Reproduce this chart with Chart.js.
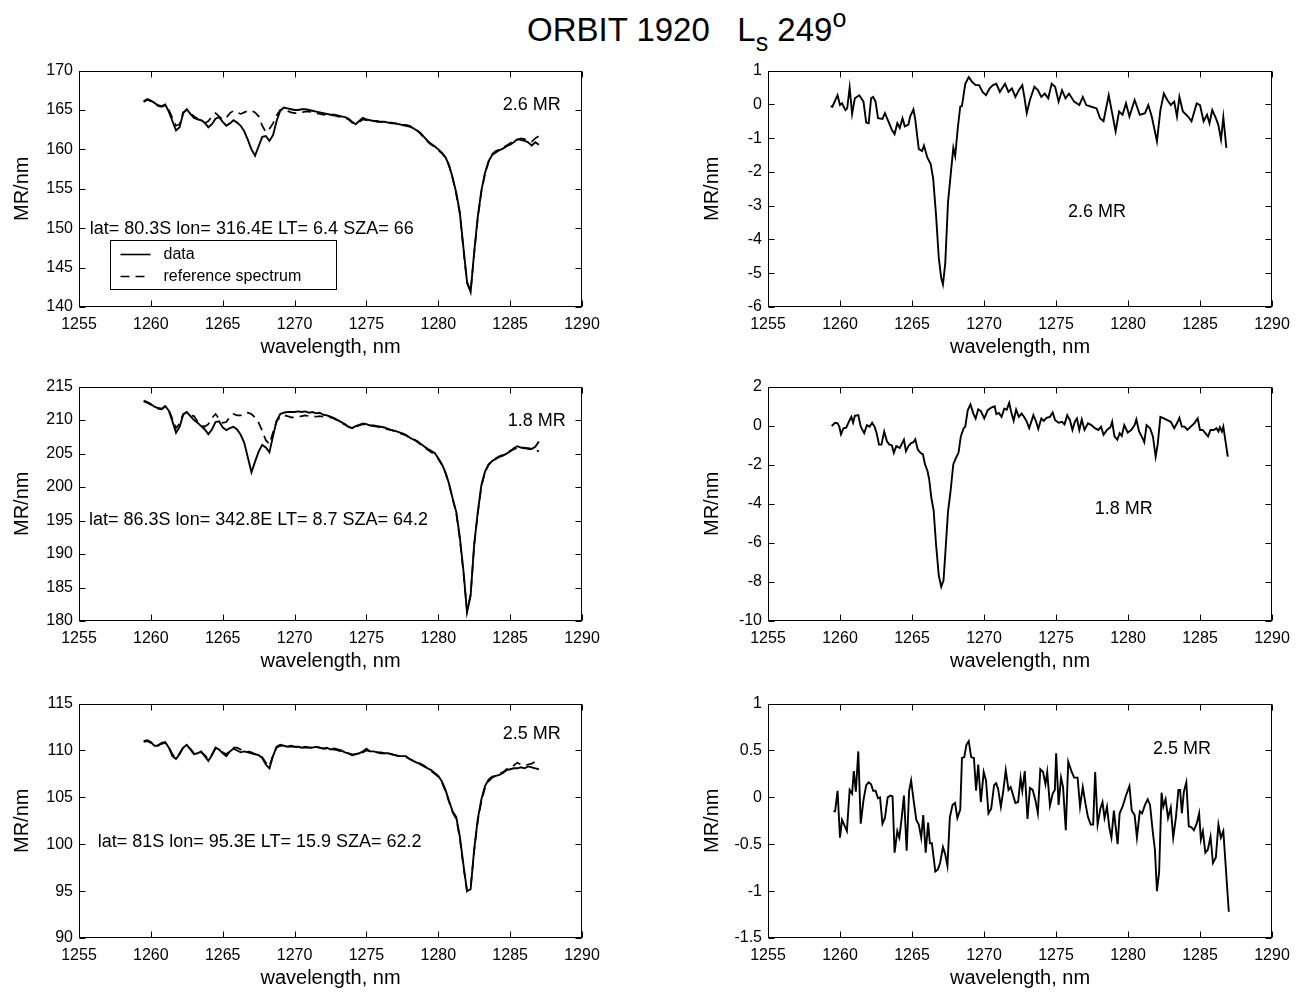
<!DOCTYPE html>
<html>
<head>
<meta charset="utf-8">
<script src="https://cdn.jsdelivr.net/npm/chart.js@4.4.1/dist/chart.umd.min.js"></script>
<style>
  body { margin: 0; background: #fff; width: 1304px; height: 992px; position: relative; overflow: hidden; }
  #title { position: absolute; left: 527px; top: 10px; font: 33px "Liberation Sans", Arial, sans-serif; white-space: nowrap; color: #000; line-height: 40px; }
  #title sub { font-size: 25px; vertical-align: -10px; line-height: 0; }
  #title sup { font-size: 25px; vertical-align: 14px; line-height: 0; }
</style>
</head>
<body>
<div id="title">ORBIT 1920&nbsp;&nbsp;&nbsp;L<sub>s</sub> 249<sup>o</sup></div>
<script>
// wavelength grid for the left (spectrum) panels, nm
const wlGrid = [
  1259.5, 1259.75, 1260, 1260.25, 1260.5, 1260.75, 1261, 1261.25, 1261.5, 1261.75,
  1262, 1262.25, 1262.5, 1262.75, 1263, 1263.25, 1263.5, 1263.75, 1264, 1264.25,
  1264.5, 1264.75, 1265, 1265.25, 1265.5, 1265.75, 1266, 1266.25, 1266.5, 1266.75,
  1267, 1267.25, 1267.5, 1267.75, 1268, 1268.25, 1268.5, 1268.75, 1269, 1269.25,
  1269.5, 1269.75, 1270, 1270.25, 1270.5, 1270.75, 1271, 1271.25, 1271.5, 1271.75,
  1272, 1272.25, 1272.5, 1272.75, 1273, 1273.25, 1273.5, 1273.75, 1274, 1274.25,
  1274.5, 1274.75, 1275, 1275.25, 1275.5, 1275.75, 1276, 1276.25, 1276.5, 1276.75,
  1277, 1277.25, 1277.5, 1277.75, 1278, 1278.25, 1278.5, 1278.75, 1279, 1279.25,
  1279.5, 1279.75, 1280, 1280.25, 1280.5, 1280.75, 1281, 1281.25, 1281.5, 1281.75,
  1282, 1282.25, 1282.5, 1282.75, 1283, 1283.25, 1283.5, 1283.75, 1284, 1284.25,
  1284.5, 1284.75, 1285, 1285.25, 1285.5, 1285.75, 1286, 1286.25, 1286.5, 1286.75,
  1287
];

// panel 1 (lat 80.3S): data and reference spectrum, MR/nm
const data1 = [
  166.1,166.4,166.2,165.9,165.6,165.5,165.7,164.8,163.6,162.4,
  162.8,164.6,165.1,164.5,164.0,163.8,163.7,163.4,162.8,163.2,
  163.9,164.1,163.5,163.0,163.3,163.7,163.4,163.0,162.3,161.2,
  160.0,159.2,160.4,161.6,161.7,161.1,161.8,163.6,164.9,165.3,
  165.2,165.1,165.0,165.0,165.1,165.1,165.0,164.9,164.8,164.7,
  164.6,164.5,164.4,164.4,164.3,164.2,164.1,163.9,163.5,163.2,
  163.6,164.0,163.8,163.7,163.6,163.6,163.5,163.5,163.4,163.4,
  163.3,163.2,163.1,163.0,162.9,162.7,162.4,162.1,161.6,161.1,
  160.7,160.4,160.0,159.6,159.0,158.0,156.4,154.5,152.0,147.5,
  143.2,141.9,147.0,151.5,154.8,157.0,158.5,159.3,159.6,159.9,
  160.1,160.4,160.6,160.9,161.3,161.2,161.1,160.9,160.5,160.9,
  160.6
];
const ref1 = [
  166.0,166.3,166.1,165.8,165.5,165.4,165.6,165.0,164.0,163.0,
  163.2,164.7,165.0,164.6,164.2,163.9,163.5,163.3,163.6,164.2,
  164.6,164.2,163.8,164.0,164.6,164.9,164.7,164.5,164.7,164.9,
  164.9,164.7,164.2,163.0,162.2,162.6,163.3,164.3,165.0,165.1,
  164.9,164.7,164.6,164.6,164.7,164.8,164.8,164.7,164.6,164.5,
  164.4,164.4,164.3,164.3,164.2,164.1,164.0,163.8,163.4,163.3,
  163.5,163.8,163.7,163.6,163.6,163.5,163.5,163.4,163.4,163.3,
  163.3,163.2,163.1,163.1,163.0,162.8,162.5,162.0,161.5,161.0,
  160.6,160.3,159.9,159.5,158.9,157.9,156.3,154.3,151.8,147.3,
  143.0,142.0,146.8,151.3,154.6,156.9,158.4,159.4,159.8,160.0,
  160.2,160.5,160.8,161.1,161.2,161.4,161.3,161.2,161.0,161.4,
  161.7
];

// panel 2 (lat 86.3S)
const data2 = [
  212.9,212.7,212.4,212.0,211.8,211.7,212.1,211.4,209.8,208.1,
  209.0,210.8,211.2,210.6,210.0,209.6,209.1,208.6,207.9,208.6,
  209.7,209.8,208.9,208.5,208.8,209.0,208.6,207.8,206.6,204.4,
  202.2,203.8,205.3,206.3,205.9,205.2,207.6,209.9,210.9,211.1,
  211.2,211.2,211.2,211.3,211.2,211.3,211.1,211.2,211.0,211.1,
  210.8,210.7,210.5,210.3,210.0,209.7,209.4,209.0,208.8,209.1,
  209.3,209.5,209.4,209.2,209.2,209.1,209.0,208.9,208.7,208.5,
  208.4,208.2,208.0,207.8,207.4,207.1,206.9,206.5,206.1,205.7,
  205.4,205.1,204.3,203.4,202.2,200.5,198.3,196.3,192.5,187.5,
  181.3,183.8,191.5,196.3,200.3,202.3,203.4,203.9,204.2,204.5,
  204.7,205.0,205.3,205.8,206.1,205.9,205.8,205.8,205.7,206.0,
  206.8
];
const ref2 = [
  212.8,212.6,212.3,212.0,211.7,211.6,212.0,211.5,210.2,208.8,
  209.5,210.9,211.2,210.7,210.6,209.8,209.3,209.0,209.4,210.3,
  210.9,210.2,209.6,209.7,210.5,210.9,210.7,210.7,211.0,211.1,
  210.9,210.4,209.6,208.4,207.0,206.4,208.2,209.8,210.5,210.7,
  210.6,210.4,210.4,210.5,210.6,210.7,210.6,210.6,210.5,210.6,
  210.5,210.5,210.4,210.2,209.9,209.6,209.3,209.0,208.9,209.0,
  209.2,209.4,209.3,209.2,209.1,209.0,208.9,208.8,208.6,208.5,
  208.3,208.1,207.9,207.7,207.4,207.2,206.8,206.4,206.0,205.6,
  205.2,204.9,204.2,203.3,202.1,200.4,198.2,196.1,192.2,187.2,
  181.5,184.0,191.3,196.1,200.1,202.2,203.3,203.9,204.3,204.6,
  204.8,205.1,205.4,205.6,205.9,205.8,205.9,205.7,205.6,205.6,
  205.3
];

// panel 3 (lat 81S)
const data3 = [
  111.0,111.1,110.9,110.5,110.5,110.8,110.9,110.3,109.4,109.1,
  109.6,110.3,110.6,110.1,109.6,109.7,109.9,109.4,108.9,109.5,
  110.3,110.1,109.7,109.4,109.9,110.2,110.0,109.8,109.9,109.8,
  109.7,109.6,109.5,109.2,108.5,108.1,109.4,110.4,110.6,110.5,
  110.4,110.5,110.4,110.4,110.3,110.4,110.3,110.3,110.4,110.3,
  110.2,110.3,110.1,110.2,110.1,110.0,109.8,109.7,109.5,109.6,
  109.7,109.9,110.2,109.9,109.9,109.8,109.8,109.7,109.7,109.6,
  109.5,109.4,109.4,109.4,109.1,108.9,108.7,108.6,108.4,108.1,
  107.9,107.6,107.3,106.7,105.8,104.6,103.5,102.9,100.8,97.8,
  95.0,95.2,99.5,102.7,104.8,106.2,106.9,107.2,107.3,107.4,
  107.6,107.9,108.0,108.1,108.1,108.2,108.1,108.3,108.2,108.1,
  108.0
];
const ref3 = [
  110.9,111.0,110.8,110.6,110.6,110.7,110.8,110.4,109.6,109.2,
  109.7,110.3,110.5,110.2,109.7,109.8,109.8,109.5,109.1,109.6,
  110.2,110.1,109.8,109.6,110.0,110.3,110.3,110.1,110.0,109.9,
  109.8,109.6,109.5,109.3,108.7,108.3,109.5,110.3,110.5,110.5,
  110.4,110.4,110.4,110.3,110.3,110.3,110.3,110.3,110.3,110.3,
  110.2,110.2,110.1,110.1,110.0,109.9,109.8,109.7,109.6,109.6,
  109.7,109.8,110.0,109.9,109.8,109.8,109.7,109.7,109.6,109.6,
  109.5,109.4,109.3,109.3,109.1,108.9,108.7,108.5,108.3,108.1,
  107.8,107.5,107.2,106.6,105.7,104.5,103.4,102.7,100.6,97.6,
  95.0,95.4,99.3,102.5,104.6,106.0,106.7,107.1,107.3,107.5,
  107.7,108.0,108.3,108.4,108.7,108.5,108.4,108.5,108.6,108.8,
  109.2
];

// right panels: data minus reference, MR/nm
const diffWl1 = [
  1259.35,1259.47,1259.83,1260.0,1260.14,1260.38,1260.5,1260.67,1260.84,1261.03,
  1261.34,1261.63,1261.82,1261.99,1262.16,1262.3,1262.47,1262.64,1262.95,1263.12,
  1263.36,1263.6,1263.79,1263.98,1264.15,1264.34,1264.5,1264.75,1264.87,1265.1,
  1265.23,1265.47,1265.7,1265.83,1266.07,1266.3,1266.47,1266.67,1266.86,1267.03,
  1267.15,1267.31,1267.5,1267.7,1267.87,1268.0,1268.18,1268.35,1268.47,1268.7,
  1268.94,1269.18,1269.42,1269.66,1269.9,1270.14,1270.38,1270.62,1270.86,1271.1,
  1271.46,1271.7,1271.94,1272.18,1272.42,1272.66,1272.8,1272.97,1273.19,1273.5,
  1273.74,1273.98,1274.22,1274.46,1274.7,1274.94,1275.18,1275.42,1275.66,1275.9,
  1276.26,1276.62,1276.86,1277.1,1277.46,1277.82,1278.06,1278.3,1278.66,1278.9,
  1279.14,1279.38,1279.62,1279.86,1280.1,1280.46,1280.82,1281.18,1281.41,1281.65,
  1282.01,1282.25,1282.49,1282.73,1282.97,1283.21,1283.4,1283.57,1283.81,1284.17,
  1284.41,1284.77,1285.0,1285.25,1285.49,1285.66,1285.85,1286.1,1286.27,1286.46,
  1286.62,1286.83
];
const diff1 = [
  -0.05,-0.07,0.27,-0.02,0.03,-0.17,-0.12,0.5,-0.28,0.18,
  0.27,0.08,-0.54,-0.56,0.18,0.22,0.08,-0.41,-0.43,-0.26,
  -0.5,-0.75,-0.88,-0.56,-0.7,-0.41,-0.65,-0.6,-0.36,-0.15,
  -0.46,-1.32,-1.38,-1.22,-1.58,-1.77,-2.2,-3.28,-4.55,-5.14,
  -5.33,-4.7,-2.9,-2.02,-1.29,-1.53,-0.7,-0.07,-0.05,0.61,
  0.81,0.66,0.57,0.57,0.37,0.27,0.47,0.57,0.61,0.37,
  0.61,0.37,0.47,0.22,0.42,0.57,0.22,-0.26,0.13,0.52,
  0.42,0.22,0.32,0.18,0.61,0.52,0.08,0.42,0.18,0.32,
  0.08,-0.02,0.22,-0.02,-0.07,-0.12,-0.41,-0.5,0.27,-0.26,
  -0.8,-0.21,-0.31,0.03,-0.36,0.13,-0.31,-0.26,-0.02,-0.36,
  -1.09,-0.17,0.32,0.13,-0.02,0.08,-0.36,0.22,-0.21,-0.36,
  -0.5,0.03,-0.02,-0.5,-0.31,-0.56,-0.17,-0.41,-0.6,-1.04,
  -0.38,-1.29
];

const diffWl2 = [
  1259.42,1259.66,1259.83,1259.95,1260.07,1260.24,1260.43,1260.67,1260.79,1260.91,
  1261.03,1261.27,1261.44,1261.68,1261.87,1262.06,1262.23,1262.4,1262.54,1262.71,
  1262.88,1263.07,1263.26,1263.43,1263.6,1263.74,1263.91,1264.15,1264.32,1264.44,
  1264.58,1264.75,1264.94,1265.1,1265.23,1265.4,1265.59,1265.76,1265.9,1266.07,
  1266.19,1266.35,1266.5,1266.67,1266.86,1267.03,1267.19,1267.34,1267.5,1267.67,
  1267.87,1268.06,1268.23,1268.39,1268.59,1268.7,1268.87,1269.06,1269.26,1269.42,
  1269.6,1269.78,1270.02,1270.26,1270.5,1270.74,1270.86,1271.03,1271.22,1271.41,
  1271.58,1271.75,1271.89,1272.06,1272.23,1272.42,1272.61,1272.78,1272.97,1273.14,
  1273.43,1273.62,1273.77,1273.98,1274.15,1274.34,1274.58,1274.77,1274.94,1275.18,
  1275.42,1275.59,1275.78,1275.97,1276.14,1276.31,1276.45,1276.62,1276.79,1276.98,
  1277.22,1277.46,1277.7,1277.94,1278.13,1278.3,1278.54,1278.78,1278.9,1279.06,
  1279.26,1279.42,1279.57,1279.74,1279.98,1280.22,1280.46,1280.58,1280.77,1281.01,
  1281.13,1281.29,1281.53,1281.73,1281.92,1282.06,1282.25,1282.49,1282.73,1282.97,
  1283.21,1283.4,1283.57,1283.74,1283.93,1284.12,1284.36,1284.6,1284.84,1285.0,
  1285.18,1285.37,1285.56,1285.73,1285.97,1286.14,1286.28,1286.38,1286.52,1286.62,
  1286.93
];
const diff2 = [
  -0.02,0.15,0.12,-0.05,-0.44,-0.13,-0.1,0.28,0.45,0.15,
  0.5,0.54,-0.05,-0.38,0.03,-0.05,0.15,-0.05,-0.38,-0.97,
  -0.97,-0.3,-0.8,-0.97,-1.0,-1.39,-1.05,-1.14,-0.89,-0.72,
  -1.31,-1.05,-0.89,-0.85,-0.69,-1.22,-1.39,-1.47,-1.97,-2.31,
  -2.73,-3.73,-4.32,-6.08,-7.67,-8.25,-7.92,-6.24,-4.4,-3.4,
  -1.97,-1.64,-1.39,-0.55,-0.13,-0.05,0.79,1.09,0.62,0.37,
  0.84,0.75,0.37,0.79,0.92,0.99,0.59,0.65,0.45,0.87,
  0.82,1.17,0.7,0.25,0.82,0.45,0.62,0.45,0.2,-0.13,
  0.54,0.2,-0.17,0.37,0.25,0.4,0.45,0.67,0.28,0.15,
  0.2,0.07,0.54,0.28,-0.22,0.2,0.37,-0.22,0.32,-0.22,
  0.12,0.03,-0.13,-0.22,-0.05,-0.47,-0.22,-0.08,0.2,-0.55,
  -0.72,-0.38,-0.52,0.03,-0.35,-0.22,0.03,0.32,-0.3,-0.64,
  -0.85,0.03,-0.13,-0.55,-1.59,-0.97,0.45,0.37,0.28,0.2,
  -0.13,0.12,0.4,-0.05,-0.05,-0.22,-0.05,0.12,0.37,-0.22,
  -0.22,-0.38,-0.55,-0.22,-0.22,-0.13,-0.3,-0.08,-0.3,-0.05,
  -1.59
];

const diffWl3 = [
  1259.54,1259.66,1259.83,1260.0,1260.14,1260.31,1260.48,1260.67,1260.84,1260.96,
  1261.1,1261.27,1261.44,1261.63,1261.82,1261.99,1262.16,1262.3,1262.47,1262.64,
  1262.78,1262.95,1263.12,1263.31,1263.5,1263.65,1263.79,1263.98,1264.12,1264.27,
  1264.44,1264.63,1264.8,1264.94,1265.11,1265.3,1265.47,1265.64,1265.78,1265.95,
  1266.12,1266.24,1266.38,1266.62,1266.79,1266.95,1267.15,1267.31,1267.46,1267.63,
  1267.82,1267.99,1268.15,1268.35,1268.47,1268.63,1268.78,1268.94,1269.11,1269.3,
  1269.45,1269.6,1269.78,1269.98,1270.14,1270.31,1270.5,1270.7,1270.84,1270.98,
  1271.17,1271.34,1271.51,1271.7,1271.85,1271.99,1272.18,1272.37,1272.54,1272.66,
  1272.83,1273.02,1273.19,1273.38,1273.57,1273.74,1273.91,1274.1,1274.27,1274.39,
  1274.58,1274.77,1274.92,1275.01,1275.18,1275.35,1275.49,1275.68,1275.85,1276.07,
  1276.26,1276.5,1276.67,1276.86,1277.05,1277.22,1277.41,1277.58,1277.72,1277.89,
  1278.08,1278.23,1278.37,1278.54,1278.71,1278.85,1279.02,1279.14,1279.28,1279.42,
  1279.62,1279.86,1280.1,1280.26,1280.46,1280.62,1280.82,1280.98,1281.18,1281.37,
  1281.53,1281.73,1281.87,1282.01,1282.16,1282.33,1282.45,1282.61,1282.78,1282.97,
  1283.14,1283.33,1283.5,1283.62,1283.74,1283.88,1284.05,1284.22,1284.41,1284.58,
  1284.77,1284.94,1285.06,1285.2,1285.37,1285.54,1285.73,1285.9,1286.1,1286.28,
  1286.45,1286.62,1287.0
];
const diff3 = [
  -0.15,-0.15,0.07,-0.43,-0.24,-0.3,-0.36,0.08,0.04,0.28,
  0.06,0.49,-0.28,-0.03,0.13,0.16,0.14,0.07,0.07,-0.01,
  0,-0.28,-0.22,0,0.02,0.01,-0.59,-0.36,-0.43,-0.24,
  0.02,-0.57,0.07,0.18,-0.03,-0.24,-0.29,-0.43,-0.19,-0.59,
  -0.27,-0.49,-0.49,-0.79,-0.77,-0.7,-0.53,-0.61,-0.73,-0.21,
  -0.08,-0.06,-0.22,-0.13,0.42,0.43,0.56,0.6,0.43,0.42,
  0.07,0.35,-0.05,0.27,0.18,-0.17,-0.12,0.13,0.15,0.09,
  -0.1,0.07,0.29,0.08,0.11,0.04,-0.06,-0.05,0.21,0.07,
  0.28,-0.23,0.1,0.08,-0.03,-0.17,0.3,0.27,0.14,0.27,
  -0.09,0.04,0.08,0.47,-0.08,0.21,0.11,-0.35,0.38,0.28,
  0.21,0.21,-0.1,0.11,-0.07,-0.21,-0.29,-0.29,0.27,-0.29,
  -0.12,-0.05,-0.22,-0.1,-0.33,-0.43,-0.14,-0.31,-0.5,-0.17,
  -0.1,0.02,0.12,-0.14,-0.19,-0.43,-0.15,-0.17,-0.08,-0.02,
  -0.08,-0.38,-0.56,-1.0,-0.8,0.05,-0.1,-0.02,-0.22,-0.11,
  -0.43,-0.21,0.08,0.08,-0.17,0.06,0.16,-0.31,-0.32,-0.35,
  -0.28,-0.17,-0.45,-0.36,-0.59,-0.56,-0.42,-0.7,-0.64,-0.29,
  -0.43,-0.36,-1.22
];

const xTicks = { min: 1255, max: 1290, step: 5 };

const FONT = '"Liberation Sans", Arial, Helvetica, sans-serif';
const PAD_T = 12, PAD_R = 30, X_H = 52, TICK = 6;

Chart.defaults.font.family = FONT;
Chart.defaults.color = '#000';

function pts(xs, ys) {
  const n = Math.min(xs.length, ys.length);
  const out = [];
  for (let i = 0; i < n; i++) out.push({ x: xs[i], y: ys[i] });
  return out;
}

const solid = (label, xs, ys) => ({ label, data: pts(xs, ys), borderColor: '#000', borderWidth: 1.9, pointRadius: 0, tension: 0 });
const dashed = (label, xs, ys) => ({ label, data: pts(xs, ys), borderColor: '#000', borderWidth: 1.7, borderDash: [9, 6], pointRadius: 0, tension: 0 });

// frame with inward ticks on all four sides, text notes, in-plot legend
const boxPlugin = {
  id: 'box',
  afterDraw(chart, args, o) {
    const { ctx, chartArea: a, scales: { x, y } } = chart;
    ctx.save();
    ctx.strokeStyle = '#000';
    ctx.lineWidth = 1;
    const L = Math.round(a.left) + 0.5, R = Math.round(a.right) - 0.5;
    const T = Math.round(a.top) + 0.5, B = Math.round(a.bottom) - 0.5;
    ctx.strokeRect(L, T, R - L, B - T);
    ctx.beginPath();
    x.ticks.forEach(t => {
      const px = Math.round(x.getPixelForValue(t.value)) + 0.5;
      ctx.moveTo(px, B); ctx.lineTo(px, B - TICK);
      ctx.moveTo(px, T); ctx.lineTo(px, T + TICK);
    });
    y.ticks.forEach(t => {
      const py = Math.round(y.getPixelForValue(t.value)) + 0.5;
      ctx.moveTo(L, py); ctx.lineTo(L + TICK, py);
      ctx.moveTo(R, py); ctx.lineTo(R - TICK, py);
    });
    ctx.stroke();

    ctx.fillStyle = '#000';
    ctx.font = '18px ' + FONT;
    ctx.textBaseline = 'middle';
    (o.notes || []).forEach(n => {
      ctx.textAlign = n.align;
      ctx.fillText(n.text, x.getPixelForValue(n.at[0]), y.getPixelForValue(n.at[1]));
    });

    if (o.legend) {
      const g = o.legend;
      const bx = Math.round(a.left + g.dx) + 0.5, by = Math.round(a.top + g.dy) + 0.5;
      ctx.fillStyle = '#fff';
      ctx.fillRect(bx, by, g.w, g.h);
      ctx.strokeRect(bx, by, g.w, g.h);
      ctx.font = '16px ' + FONT;
      ctx.textAlign = 'left';
      chart.data.datasets.forEach((ds, i) => {
        const ly = by + 14 + i * 22;
        ctx.beginPath();
        ctx.setLineDash(ds.borderDash || []);
        ctx.lineWidth = 1.6;
        ctx.moveTo(bx + 10, ly); ctx.lineTo(bx + 40, ly);
        ctx.stroke();
        ctx.setLineDash([]);
        ctx.fillStyle = '#000';
        ctx.fillText(ds.label, bx + 53, ly);
      });
    }
    ctx.restore();
  }
};

const panels = [
  { left: 79, top: 67, w: 503, h: 240, yW: 69, ymin: 140, ymax: 170, ystep: 5,
    datasets: [solid('data', wlGrid, data1), dashed('reference spectrum', wlGrid, ref1)],
    notes: [
      { text: '2.6 MR', at: [1286.5, 165.6], align: 'center' },
      { text: 'lat= 80.3S lon= 316.4E LT= 6.4 SZA= 66', at: [1255.75, 149.9], align: 'left' }
    ],
    legend: { dx: 31, dy: 169, w: 226, h: 49 } },
  { left: 768, top: 67, w: 504, h: 240, yW: 68, ymin: -6, ymax: 1, ystep: 1,
    datasets: [solid('difference', diffWl1, diff1)],
    notes: [{ text: '2.6 MR', at: [1277.85, -3.2], align: 'center' }] },
  { left: 79, top: 383, w: 503, h: 238, yW: 69, ymin: 180, ymax: 215, ystep: 5,
    datasets: [solid('data', wlGrid, data2), dashed('reference spectrum', wlGrid, ref2)],
    notes: [
      { text: '1.8 MR', at: [1286.85, 209.85], align: 'center' },
      { text: 'lat= 86.3S lon= 342.8E LT= 8.7 SZA= 64.2', at: [1255.7, 195.15], align: 'left' }
    ] },
  { left: 768, top: 383, w: 504, h: 238, yW: 68, ymin: -10, ymax: 2, ystep: 2,
    datasets: [solid('difference', diffWl2, diff2)],
    notes: [{ text: '1.8 MR', at: [1279.7, -4.25], align: 'center' }] },
  { left: 79, top: 700, w: 503, h: 238, yW: 69, ymin: 90, ymax: 115, ystep: 5,
    datasets: [solid('data', wlGrid, data3), dashed('reference spectrum', wlGrid, ref3)],
    notes: [
      { text: '2.5 MR', at: [1286.5, 111.75], align: 'center' },
      { text: 'lat= 81S lon= 95.3E LT= 15.9 SZA= 62.2', at: [1256.3, 100.2], align: 'left' }
    ] },
  { left: 768, top: 700, w: 504, h: 238, yW: 68, ymin: -1.5, ymax: 1, ystep: 0.5,
    datasets: [solid('difference', diffWl3, diff3)],
    notes: [{ text: '2.5 MR', at: [1283.75, 0.517], align: 'center' }] }
];

function makePanel(p) {
  const cv = document.createElement('canvas');
  const W = p.yW + p.w + PAD_R, H = PAD_T + p.h + X_H;
  cv.width = W; cv.height = H;
  cv.style.cssText = `position:absolute;left:${p.left - p.yW}px;top:${p.top - PAD_T}px;width:${W}px;height:${H}px`;
  document.body.appendChild(cv);

  new Chart(cv, {
    type: 'line',
    data: { datasets: p.datasets },
    options: {
      responsive: false,
      animation: false,
      devicePixelRatio: 1,
      layout: { padding: { top: PAD_T, right: PAD_R, left: 0, bottom: 0 } },
      plugins: {
        legend: { display: false },
        tooltip: { enabled: false },
        box: { notes: p.notes, legend: p.legend }
      },
      scales: {
        x: {
          type: 'linear',
          min: xTicks.min, max: xTicks.max,
          afterFit: s => { s.height = X_H; },
          grid: { display: false, drawTicks: false },
          border: { display: false },
          ticks: { stepSize: xTicks.step, padding: 8, font: { size: 16 }, color: '#000', callback: v => String(v), maxRotation: 0 },
          title: { display: true, text: 'wavelength, nm', font: { size: 20 }, padding: 0, color: '#000' }
        },
        y: {
          type: 'linear',
          min: p.ymin, max: p.ymax,
          afterFit: s => { s.width = p.yW; },
          grid: { display: false, drawTicks: false },
          border: { display: false },
          ticks: { stepSize: p.ystep, padding: 6, font: { size: 16 }, color: '#000', callback: v => String(v) },
          title: { display: true, text: 'MR/nm', font: { size: 20 }, padding: 0, color: '#000' }
        }
      }
    },
    plugins: [boxPlugin]
  });
}

panels.forEach(makePanel);
</script>
</body>
</html>
